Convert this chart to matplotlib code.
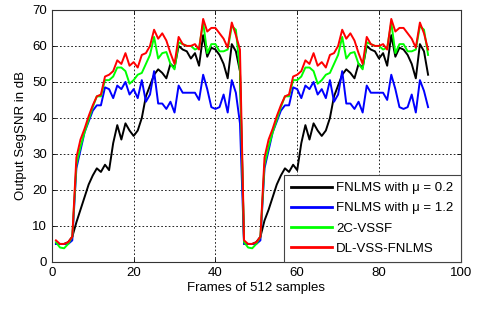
import numpy as np
import matplotlib
matplotlib.use("Agg")
import matplotlib.pyplot as plt

plt.rcParams['font.family'] = ['Liberation Sans', 'DejaVu Sans']

# frames 1..46 (first utterance) and 47..92 (second utterance)
frames = np.arange(1, 93)

black_a = [5, 5, 5, 5.5, 7, 11, 14.5, 18, 21.5, 24, 26, 25, 27, 25.5, 33, 38, 34, 38.5, 36.5, 35,
           36.5, 40, 46, 49, 52, 53.5, 52.5, 51, 55, 54, 60, 59, 58.5, 56.5, 58, 54.5, 63, 57, 59.5, 59,
           57.5, 55, 51, 60.5, 58.5, 53]
black_b = [5, 5, 5, 5.5, 7, 11.5, 14.5, 18, 21.5, 24, 26, 25, 27, 25.5, 33, 38, 34, 38.5, 36.5, 35,
           36.5, 40, 46, 49, 52, 53.5, 52.5, 51, 55, 54, 60, 59, 58.5, 56.5, 58, 54.5, 63, 57, 59.5, 59,
           57.5, 55, 51, 60.5, 58.5, 52]

blue_a = [5, 5, 5, 5, 6, 26, 31, 36, 39, 42, 43.5, 43.5, 48.5, 48, 45.5, 49, 48, 50, 46.5, 48,
          45.5, 50.5, 44.5, 46.5, 53, 44, 44, 42.5, 44.5, 41.5, 49, 47, 47, 47, 47, 45, 52, 48, 43, 42.5,
          43, 46.5, 41.5, 50.5, 47, 38.5]
blue_b = [5, 5, 5, 5, 6, 26, 31, 36, 39, 42, 43.5, 43.5, 48.5, 48, 45.5, 49, 48, 50, 46.5, 48,
          45.5, 50.5, 44.5, 46.5, 53, 44, 44, 42.5, 44.5, 41.5, 49, 47, 47, 47, 47, 45, 52, 48, 43, 42.5,
          43, 46.5, 41.5, 50.5, 47.5, 43]

green_a = [5.5, 4, 3.8, 5, 7, 27, 32, 36, 39.5, 43, 46, 46, 50.5, 50.5, 51.5, 54, 54, 53, 49.5, 50.5,
           52, 52.5, 55, 57.5, 62.5, 56.5, 58, 58.3, 55, 53.5, 61, 60.5, 60, 60, 59, 59.5, 66.5, 58, 60.5, 60.5,
           58.5, 58.5, 59, 65.5, 64.5, 53]
green_b = [5.5, 4, 3.8, 5, 7, 27, 32, 36, 39.5, 43, 46, 46, 50.5, 50.5, 51.5, 54, 54, 53, 49.5, 50.5,
           52, 52.5, 55, 57.5, 62.5, 56.5, 58, 58.3, 55, 53.5, 61, 60.5, 60, 60, 59, 59.5, 66.5, 58, 60.5, 60.5,
           58.5, 58.5, 59, 65.5, 64.5, 57.5]

red_a = [6, 5, 5, 5.5, 7, 29, 34, 37, 40.5, 43.5, 46, 46.5, 51.5, 52, 53, 56, 55, 58, 54.5, 55.5,
         54, 57.5, 58, 60, 64.5, 62, 63.5, 61.5, 58, 55, 62.5, 60.5, 60, 60, 60.5, 59, 67.5, 64, 65, 65,
         63.5, 62, 59.5, 66.5, 63, 59]
red_b = [6, 5, 5, 5.5, 7, 29, 34, 37, 40.5, 43.5, 46, 46.5, 51.5, 52, 53, 56, 55, 58, 54.5, 55.5,
         54, 57.5, 58, 60, 64.5, 62, 63.5, 61.5, 58, 55, 62.5, 60.5, 60, 60, 60.5, 59, 67.5, 64, 65, 65,
         63.5, 62, 59.5, 66.5, 63.5, 59]

labels = ['FNLMS with \u03bc = 0.2', 'FNLMS with \u03bc = 1.2', '2C-VSSF', 'DL-VSS-FNLMS']
colors = ['black', '#0000ff', '#00ff00', '#ff0000']
series = [black_a + black_b, blue_a + blue_b, green_a + green_b, red_a + red_b]

fig = plt.figure(figsize=(4.8, 3.1), dpi=100)
ax = fig.add_axes([0.108, 0.155, 0.852, 0.813])

for vals, col, lab in zip(series, colors, labels):
    ax.plot(frames, vals, color=col, lw=1.4, label=lab)

ax.set_xlim(0, 100)
ax.set_ylim(0, 70)
ax.set_xticks(range(0, 101, 20))
ax.set_yticks(range(0, 71, 10))
ax.grid(True, color='black', linestyle=(0, (2, 2.5)), lw=0.6)
ax.tick_params(direction='in', top=True, right=True, labelsize=9.5, length=3, width=0.6)
for s in ax.spines.values():
    s.set_linewidth(0.8)
    s.set_color('#333333')

ax.set_xlabel('Frames of 512 samples', fontsize=9.5, labelpad=2)
ax.set_ylabel('Output SegSNR in dB', fontsize=9.5, labelpad=4)

leg = ax.legend(loc='lower right', fontsize=9.5, fancybox=False, framealpha=1,
                borderaxespad=0, handlelength=3.1, handletextpad=0.3,
                labelspacing=0.6, borderpad=0.55)
leg.get_frame().set_edgecolor('#444444')
leg.get_frame().set_linewidth(0.8)
for line in leg.get_lines():
    line.set_linewidth(2)

fig.savefig('out.png', dpi=100)
